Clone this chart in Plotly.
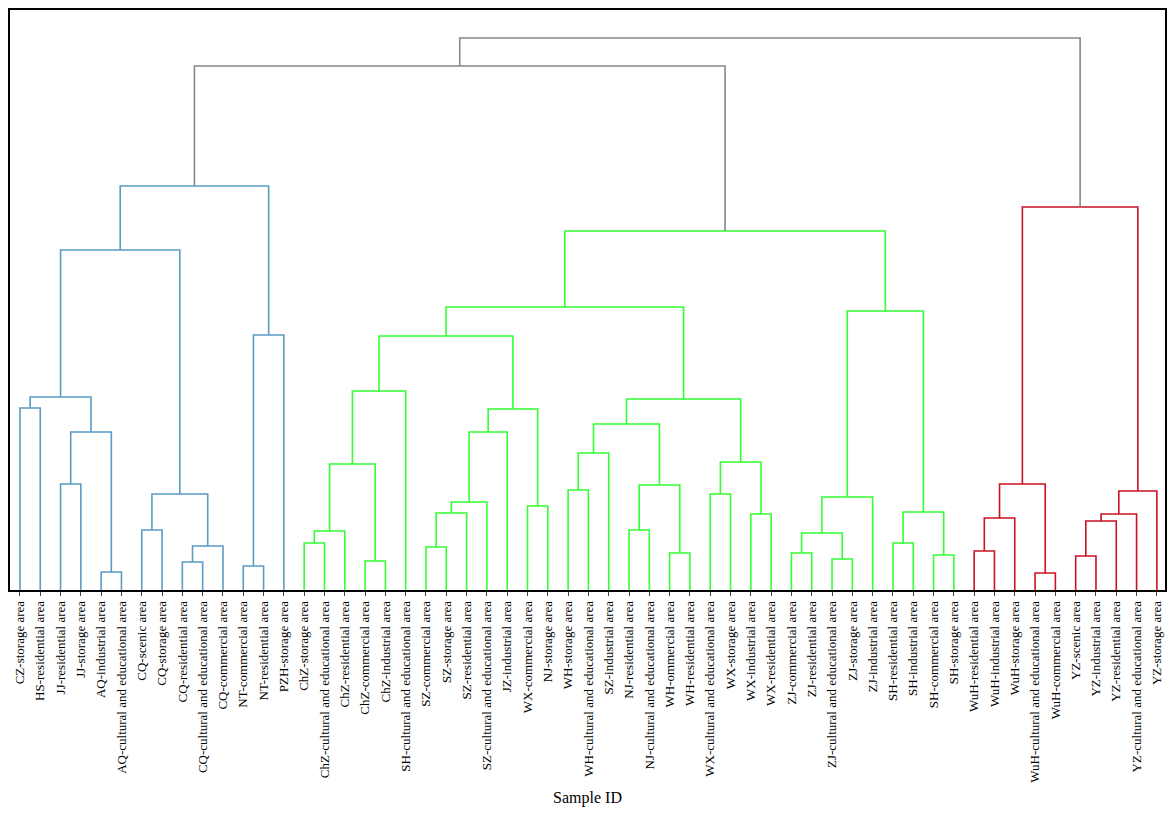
import plotly.graph_objects as go

leaf_labels = [
    "CZ-storage area", "HS-residential area", "JJ-residential area", "JJ-storage area",
    "AQ-industrial area", "AQ-cultural and educational area", "CQ-scenic area",
    "CQ-storage area", "CQ-residential area", "CQ-cultural and educational area",
    "CQ-commercial area", "NT-commercial area", "NT-residential area", "PZH-storage area",
    "ChZ-storage area", "ChZ-cultural and educational area", "ChZ-residential area",
    "ChZ-commercial area", "ChZ-industrial area", "SH-cultural and educational area",
    "SZ-commercial area", "SZ-storage area", "SZ-residential area",
    "SZ-cultural and educational area", "JZ-industrial area", "WX-commercial area",
    "NJ-storage area", "WH-storage area", "WH-cultural and educational area",
    "SZ-industrial area", "NJ-residential area", "NJ-cultural and educational area",
    "WH-ommercial area", "WH-residential area", "WX-cultural and educational area",
    "WX-storage area", "WX-industrial area", "WX-residential area", "ZJ-commercial area",
    "ZJ-residential area", "ZJ-cultural and educational area", "ZJ-storage area",
    "ZJ-industrial area", "SH-residential area", "SH-industrial area",
    "SH-commercial area", "SH-storage area", "WuH-residential area",
    "WuH-industrial area", "WuH-storage area", "WuH-cultural and educational area",
    "WuH-commercial area", "YZ-scenic area", "YZ-industrial area", "YZ-residential area",
    "YZ-cultural and educational area", "YZ-storage area",
]

# merges: node id = len(leaf_labels) + merge index
merge_left = [0, 2, 4, 58, 57, 6, 8, 63, 62, 61, 11, 67, 66,
              14, 70, 17, 71, 73, 20, 75, 76, 77, 25, 78, 74, 27, 82, 30, 32, 84, 83,
              34, 36, 88, 87, 81, 38, 40, 93, 95, 43, 45, 97, 96, 92,
              47, 102, 50, 103, 52, 106, 107, 108, 105,
              69, 111]
merge_right = [1, 3, 5, 59, 60, 7, 9, 10, 64, 65, 12, 13, 68,
               15, 16, 18, 72, 19, 21, 22, 23, 24, 26, 79, 80, 28, 29, 31, 33, 85, 86,
               35, 37, 89, 90, 91, 39, 41, 94, 42, 44, 46, 98, 99, 100,
               48, 49, 51, 104, 53, 54, 55, 56, 109,
               101, 110]
merge_height = [182, 106, 18, 158, 193, 60, 28, 44, 96, 340, 24, 255, 404,
                47, 59, 29, 126, 199, 43, 77, 88, 158, 84, 181, 254, 100, 137, 60, 37,
                105, 166, 96, 76, 128, 191, 283, 37, 31, 57, 93, 47, 35, 78, 279, 359,
                39, 72, 17, 106, 34, 69, 76, 99, 383,
                524, 552]
merge_group = ["A"] * 13 + ["B"] * 32 + ["C"] * 9 + ["top"] * 2

group_colors = {"A": "#5b9bc4", "B": "#33ff33", "C": "#cc1122", "top": "#888888"}

n = len(leaf_labels)
pos_x = list(range(n))
pos_y = [0] * n
segs = {g: ([], []) for g in group_colors}
for l, r, h, g in zip(merge_left, merge_right, merge_height, merge_group):
    xl, xr = pos_x[l], pos_x[r]
    xs, ys = segs[g]
    xs += [xl, xl, xr, xr, None]
    ys += [pos_y[l], h, h, pos_y[r], None]
    pos_x.append((xl + xr) / 2)
    pos_y.append(h)

fig = go.Figure()
for g, (xs, ys) in segs.items():
    fig.add_trace(go.Scatter(x=xs, y=ys, mode="lines", showlegend=False,
                             line=dict(color=group_colors[g], width=1.6)))

font = "Liberation Serif, Times New Roman, serif"
fig.update_layout(
    width=1160, height=820, plot_bgcolor="white", paper_bgcolor="white",
    margin=dict(l=2, r=1, t=2, b=238),
    font=dict(family=font, size=13, color="black"),
    xaxis=dict(range=[-0.49, 56.4], tickmode="array", tickvals=list(range(n)),
               ticktext=leaf_labels, tickangle=-90, showgrid=False, zeroline=False,
               showline=True, linecolor="black", linewidth=1.5, mirror=True,
               ticks="outside", ticklen=4, tickfont=dict(size=13),
               automargin=False,
               title=dict(text="Sample ID", font=dict(size=16), standoff=10)),
    yaxis=dict(range=[0, 580], showticklabels=False, showgrid=False, zeroline=False,
               showline=True, linecolor="black", linewidth=1.5, mirror=True),
)
fig.write_html("out.html")
